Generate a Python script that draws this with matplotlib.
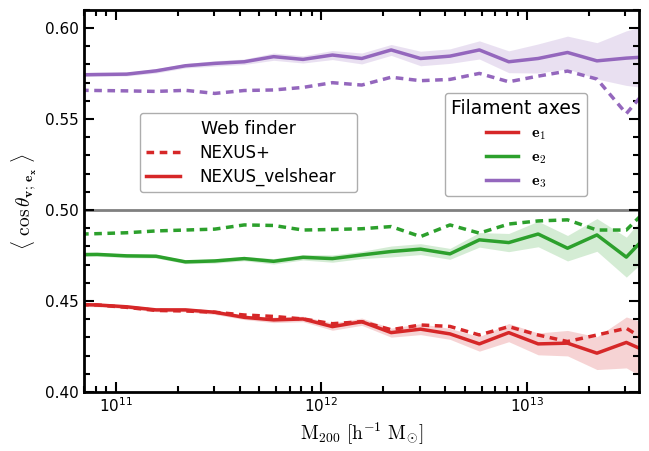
import matplotlib
matplotlib.use("Agg")
import matplotlib.pyplot as plt
import numpy as np
from matplotlib.lines import Line2D

# halo mass bins (log10 M200)
log_mass = 10.768 + 0.1428 * np.arange(21)
mass = 10 ** log_mass

# NEXUS_velshear (solid) and NEXUS+ (dashed)
e1_vel = [0.4482, 0.4478, 0.4468, 0.4451, 0.4451, 0.4438, 0.4410, 0.4396, 0.4401, 0.4359, 0.4386,
          0.4326, 0.4345, 0.4319, 0.4264, 0.4326, 0.4264, 0.4268, 0.4213, 0.4272, 0.4200]
e1_nex = [0.4482, 0.4478, 0.4465, 0.4448, 0.4445, 0.4438, 0.4423, 0.4415, 0.4401, 0.4375, 0.4386,
          0.4342, 0.4368, 0.4360, 0.4313, 0.4359, 0.4313, 0.4277, 0.4313, 0.4350, 0.4250]
e1_err = [0.001, 0.001, 0.001, 0.001, 0.001, 0.0012, 0.0012, 0.0015, 0.0015, 0.002, 0.002,
          0.0025, 0.003, 0.003, 0.004, 0.005, 0.006, 0.007, 0.009, 0.014, 0.016]

e2_vel = [0.4754, 0.4756, 0.4748, 0.4746, 0.4715, 0.4720, 0.4733, 0.4718, 0.4740, 0.4733, 0.4753,
          0.4772, 0.4785, 0.4759, 0.4836, 0.4821, 0.4868, 0.4790, 0.4863, 0.4741, 0.4910]
e2_nex = [0.4866, 0.4870, 0.4875, 0.4885, 0.4890, 0.4895, 0.4918, 0.4915, 0.4890, 0.4893, 0.4897,
          0.4909, 0.4854, 0.4918, 0.4873, 0.4923, 0.4940, 0.4946, 0.4890, 0.4890, 0.5050]
e2_err = [0.001, 0.001, 0.001, 0.001, 0.001, 0.0012, 0.0012, 0.0015, 0.0015, 0.002, 0.002,
          0.003, 0.003, 0.003, 0.004, 0.005, 0.007, 0.007, 0.009, 0.011, 0.013]

e3_vel = [0.5742, 0.5745, 0.5747, 0.5765, 0.5793, 0.5806, 0.5815, 0.5843, 0.5828, 0.5852, 0.5833,
          0.5880, 0.5833, 0.5846, 0.5880, 0.5815, 0.5833, 0.5866, 0.5820, 0.5835, 0.5845]
e3_nex = [0.5659, 0.5657, 0.5655, 0.5652, 0.5658, 0.5641, 0.5657, 0.5660, 0.5674, 0.5700, 0.5687,
          0.5730, 0.5711, 0.5718, 0.5751, 0.5705, 0.5736, 0.5764, 0.5720, 0.5530, 0.5720]
e3_err = [0.001, 0.001, 0.001, 0.0012, 0.0012, 0.0015, 0.0015, 0.002, 0.002, 0.0025, 0.003,
          0.003, 0.004, 0.004, 0.005, 0.006, 0.008, 0.009, 0.010, 0.015, 0.018]

colors = ["#d62728", "#2ca02c", "#9467bd"]
labels = [r"$\mathbf{e}_1$", r"$\mathbf{e}_2$", r"$\mathbf{e}_3$"]

fig = plt.figure(figsize=(6.49, 4.51), dpi=100)
ax = fig.add_axes([0.129, 0.131, 0.856, 0.847])

ax.axhline(0.5, color="gray", lw=2, zorder=1)

for vel, nex, err, c in zip([e1_vel, e2_vel, e3_vel], [e1_nex, e2_nex, e3_nex],
                            [e1_err, e2_err, e3_err], colors):
    vel = np.array(vel)
    err = np.array(err)
    ax.fill_between(mass, vel - err, vel + err, color=c, alpha=0.2, lw=0)
    ax.plot(mass, vel, color=c, lw=2.5, solid_capstyle="butt")
    ax.plot(mass, nex, color=c, lw=2.5, ls=(0, (2.2, 1.6)))

ax.set_xscale("log")
ax.set_xlim(7e10, 3.5e13)
ax.set_ylim(0.40, 0.61)
ax.set_yticks([0.40, 0.45, 0.50, 0.55, 0.60])
ax.set_yticklabels(["0.40", "0.45", "0.50", "0.55", "0.60"])
ax.yaxis.set_minor_locator(matplotlib.ticker.MultipleLocator(0.01))

ax.tick_params(which="both", direction="in", top=True, right=True, labelsize=11, width=1.5)
ax.tick_params(which="major", length=7)
ax.tick_params(which="minor", length=4)
for s in ax.spines.values():
    s.set_linewidth(2)

ax.set_xlabel(r"$\mathrm{M_{200}\ [h^{-1}\ M_{\odot}]}$", fontsize=14, math_fontfamily="cm")
ax.set_ylabel(r"$\langle\ \cos\theta_{\mathbf{v};\,\mathbf{e_x}}\ \rangle$", fontsize=14,
              math_fontfamily="cm")

# legend for web finder
h1 = [Line2D([], [], color=colors[0], lw=2.5, ls=(0, (2.2, 1.6))),
      Line2D([], [], color=colors[0], lw=2.5)]
leg1 = ax.legend(h1, ["NEXUS+", "NEXUS_velshear"], title="Web finder", fontsize=12,
                 title_fontsize=12.5, loc="upper left", bbox_to_anchor=(0.101, 0.5, 0.391, 0.23),
                 mode="expand", borderaxespad=0, labelspacing=0.35, handletextpad=1.2,
                 fancybox=True, edgecolor="#999999")
ax.add_artist(leg1)

# legend for filament axes
h2 = [Line2D([], [], color=c, lw=2.5) for c in colors]
leg2 = ax.legend(h2, labels, title="Filament axes", title_fontsize=13.5,
                 loc="upper left", bbox_to_anchor=(0.650, 0.783), borderaxespad=0,
                 labelspacing=0.45, fancybox=True, edgecolor="#999999",
                 prop={"math_fontfamily": "cm", "size": 11.5})

fig.savefig("out.png", dpi=100)
